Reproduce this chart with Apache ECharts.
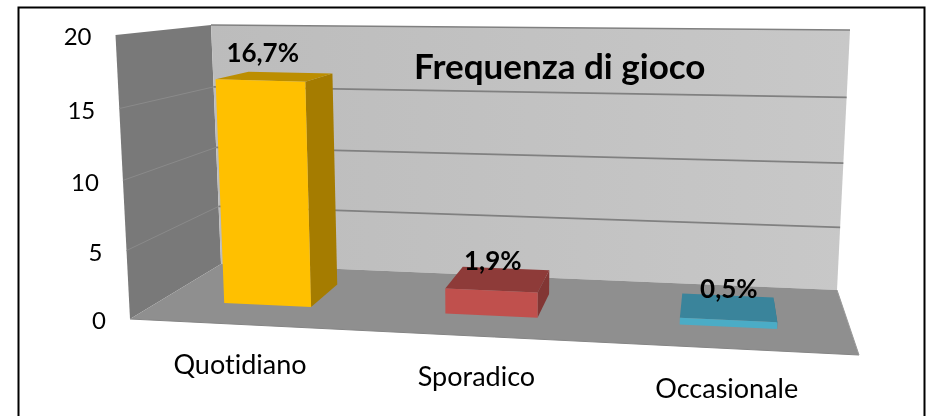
<!DOCTYPE html>
<html><head><meta charset="utf-8">
<style>html,body{margin:0;padding:0;background:#fff}#c{width:930px;height:416px}</style>
<script src="https://cdn.jsdelivr.net/npm/echarts@6/dist/echarts.min.js"></script>
</head><body><div id="c"></div>
<script>
const titleText = 'Frequenza di gioco';
const categories = ['Quotidiano', 'Sporadico', 'Occasionale'];
const values = [16.7, 1.9, 0.5];
const valueLabels = ['16,7%', '1,9%', '0,5%'];
const yTicks = [0, 5, 10, 15, 20];
const barColors = [
  {front:'#FFC000', top:'#BC8E00', side:'#A57C00'},
  {front:'#C0504D', top:'#8E3B39', side:'#823634'},
  {front:'#4BACC6', top:'#3A849B', side:'#337587'}
];

// Keep "ti" as two glyphs in canvas text, as in the reference font.
const origGetContext=HTMLCanvasElement.prototype.getContext;
HTMLCanvasElement.prototype.getContext=function(){
  const ctx=origGetContext.apply(this,arguments);
  if(ctx&&'textRendering' in ctx) ctx.textRendering='optimizeSpeed';
  return ctx;
};

// Perspective box: the eight projected corners of the 3D plot volume.
const box = {
  fbl:[130,319], fbr:[859,355], bbl:[221,264], bbr:[837,290],
  ftl:[115.5,35], ftr:[874,57], btl:[211,25], btr:[850,30]
};
const lerp=(a,b,k)=>[a[0]+(b[0]-a[0])*k,a[1]+(b[1]-a[1])*k];
function corner3(u,v,h){
  const fb=lerp(box.fbl,box.fbr,u), bb=lerp(box.bbl,box.bbr,u),
        ft=lerp(box.ftl,box.ftr,u), bt=lerp(box.btl,box.btr,u);
  return lerp(lerp(fb,bb,v),lerp(ft,bt,v),h);
}
const warp=t=>-0.0014+0.916*t+0.0855*t*t;   // lateral foreshortening
const warpH=h=>h-0.048*h*(1-h);              // vertical foreshortening
const depthFront=0.345, depthBack=0.738, barShare=0.4;

function projector(params,api){
  const r=params.coordSys;
  return {
    t:px=>(px-r.x)/r.width,
    h:val=>warpH((r.y+r.height-api.coord([0,val])[1])/r.height),
    dt:api.size([1,0])[0]/r.width
  };
}
const poly=(pts,fill,extra)=>({type:'polygon',shape:{points:pts},style:Object.assign({fill:fill},extra||{}),silent:true});
const line=(a,b,c,w)=>({type:'line',shape:{x1:a[0],y1:a[1],x2:b[0],y2:b[1]},style:{stroke:c,lineWidth:w,fill:null},silent:true});
const label=(x,y,text,font)=>({type:'text',style:{x:x,y:y,text:text,font:font,fill:'#000',align:'center',verticalAlign:'middle'},silent:true});

function renderWalls(params,api){
  const pj=projector(params,api), kids=[];
  kids.push(poly([corner3(0,0,1),corner3(0,1,1),corner3(0,1,0),corner3(0,0,0)],'#797979'));
  kids.push(poly([corner3(0,1,1),corner3(1,1,1),corner3(1,1,0),corner3(0,1,0)],
    new echarts.graphic.LinearGradient(0,0,1,0,[{offset:0,color:'#bcbcbc'},{offset:1,color:'#c8c8c8'}])));
  kids.push(poly([corner3(0,0,0),corner3(1,0,0),corner3(1,1,0),corner3(0,1,0)],'#8f8f8f'));
  yTicks.forEach(v=>{
    if(v===0) return;
    const h=pj.h(v);
    if(v!==yTicks[yTicks.length-1]) kids.push(line(corner3(0,0,h),corner3(0,1,h),'#8a8a8a',1));
    kids.push(line(corner3(0,1,h),corner3(1,1,h),'#808080',1.7));
  });
  kids.push(line(corner3(0,0,0),corner3(1,0,0),'#858585',1));
  kids.push(line(corner3(1,0,0),corner3(1,1,0),'#9a9a9a',1));
  return {type:'group',children:kids};
}
function renderBar(params,api){
  const pj=projector(params,api), i=api.value(0), val=api.value(1);
  const tc=pj.t(api.coord([i,val])[0]), hw=pj.dt*barShare/2;
  const u0=warp(tc-hw), u1=warp(tc+hw), h=pj.h(val), c=barColors[i];
  const P=(u,v,k)=>corner3(u,v,k);
  return {type:'group',children:[
    poly([P(u1,depthFront,h),P(u1,depthBack,h),P(u1,depthBack,0),P(u1,depthFront,0)],c.side),
    poly([P(u0,depthFront,h),P(u1,depthFront,h),P(u1,depthBack,h),P(u0,depthBack,h)],c.top),
    poly([P(u0,depthFront,h),P(u1,depthFront,h),P(u1,depthFront,0),P(u0,depthFront,0)],c.front)
  ]};
}
function renderValueLabel(params,api){
  const pj=projector(params,api), i=api.value(0), val=api.value(1);
  const u=warp(pj.t(api.coord([i,val])[0])), p=corner3(u,depthFront,pj.h(val));
  return label(p[0]+3-3*u,p[1]-26-6*u,valueLabels[i],'bold 26px Lato');
}
function renderCategoryLabel(params,api){
  const pj=projector(params,api), i=api.value(0);
  const u=warp(pj.t(api.coord([i,0])[0])), p=corner3(u,0,0);
  return label(p[0]-2,p[1]+41,categories[i],'27px Lato');
}
function renderTick(params,api){
  const pj=projector(params,api), val=api.value(0), p=corner3(0,0,pj.h(val));
  return {type:'text',style:{x:p[0]-24,y:p[1]+2.5,text:String(val),font:'24px Lato',fill:'#000',align:'right',verticalAlign:'middle'},silent:true};
}
const chart=echarts.init(document.getElementById('c'),null,{renderer:'canvas'});
const barData=values.map((v,i)=>[i,v]);
chart.setOption({
  animation:false,
  backgroundColor:'#fff',
  title:{text:titleText,left:414,top:50,padding:0,textStyle:{fontFamily:'Lato',fontWeight:'bold',fontSize:35,color:'#000'},z:6},
  grid:{left:130,top:35,width:729,height:284},
  xAxis:{type:'category',data:categories,show:false},
  yAxis:{type:'value',min:0,max:20,interval:5,show:false},
  graphic:[{type:'rect',left:16,top:5,shape:{width:906,height:440},style:{fill:null,stroke:'#000',lineWidth:2},silent:true,z:20}],
  series:[
    {type:'custom',name:'walls',z:1,data:[[0,0]],renderItem:renderWalls,encode:{x:0,y:1},silent:true},
    {type:'custom',name:'bars',z:3,data:barData,renderItem:renderBar,encode:{x:0,y:1},silent:true},
    {type:'custom',name:'value labels',z:5,data:barData,renderItem:renderValueLabel,encode:{x:0,y:1},silent:true},
    {type:'custom',name:'category labels',z:5,data:categories.map((c,i)=>[i,0]),renderItem:renderCategoryLabel,encode:{x:0,y:1},silent:true},
    {type:'custom',name:'ticks',z:5,data:yTicks.map(v=>[v]),renderItem:renderTick,encode:{y:0},silent:true}
  ]
});
</script></body></html>
